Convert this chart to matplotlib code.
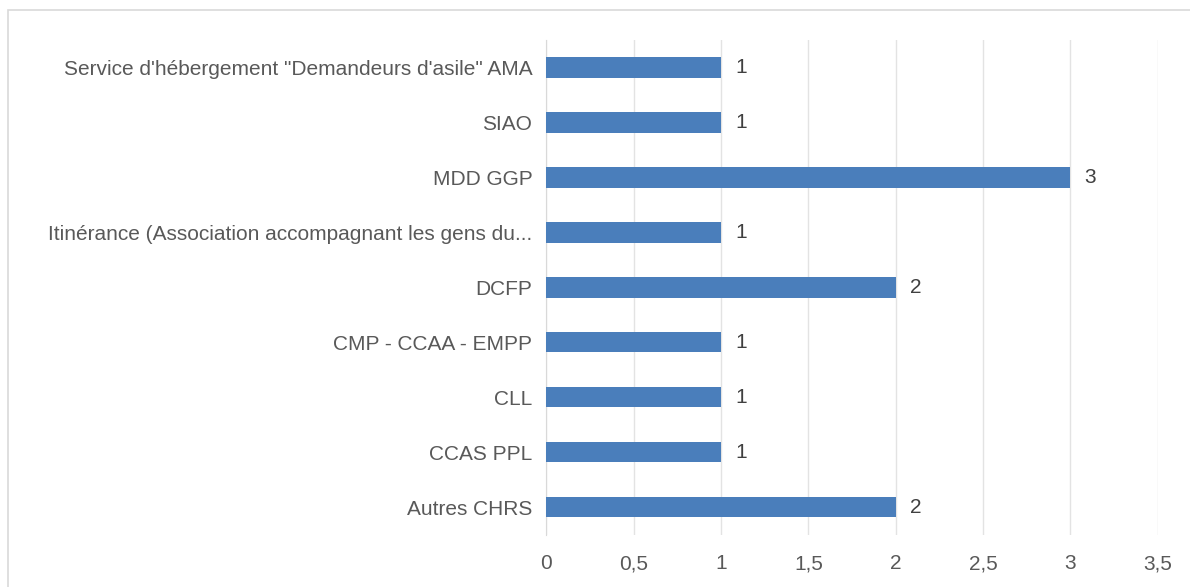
import matplotlib.pyplot as plt
from matplotlib.patches import Rectangle

categories = ["Autres CHRS", "CCAS PPL", "CLL", "CMP - CCAA - EMPP", "DCFP",
              "Itinérance (Association accompagnant les gens du...",
              "MDD GGP", "SIAO",
              "Service d'hébergement \"Demandeurs d'asile\" AMA"]
values = [2, 1, 1, 1, 2, 1, 3, 1, 1]
xticks = [0, 0.5, 1, 1.5, 2, 2.5, 3, 3.5]
xticklabels = ["0", "0,5", "1", "1,5", "2", "2,5", "3", "3,5"]

plt.rcParams['font.family'] = ['Liberation Sans', 'DejaVu Sans']

fig = plt.figure(figsize=(11.9, 5.87), dpi=100)
ax = fig.add_axes([0.459, 0.089, 0.514, 0.843])

ypos = list(range(len(categories)))
ax.barh(ypos, values, height=0.37, color='#4a7ebb', zorder=3)
for y, v in zip(ypos, values):
    ax.text(v + 0.08, y, str(v), va='center', ha='left', fontsize=15, color='#404040')

ax.set_xlim(0, 3.5)
ax.set_ylim(-0.5, len(categories) - 0.5)
ax.set_xticks(xticks)
ax.set_xticklabels(xticklabels)
ax.set_yticks(ypos)
ax.set_yticklabels(categories)
ax.tick_params(axis='both', length=0, labelsize=15, labelcolor='#595959')
ax.tick_params(axis='x', pad=14)
ax.tick_params(axis='y', pad=10)
ax.grid(axis='x', color='#e3e3e3', linewidth=1, zorder=0)
for s in ['top', 'right', 'bottom']:
    ax.spines[s].set_visible(False)
ax.spines['left'].set_color('#d9d9d9')

fig.patches.append(Rectangle((0.007, -0.01), 1.0, 0.993, transform=fig.transFigure,
                             fill=False, edgecolor='#d9d9d9', linewidth=1.2))

fig.savefig("out.png", dpi=100)
